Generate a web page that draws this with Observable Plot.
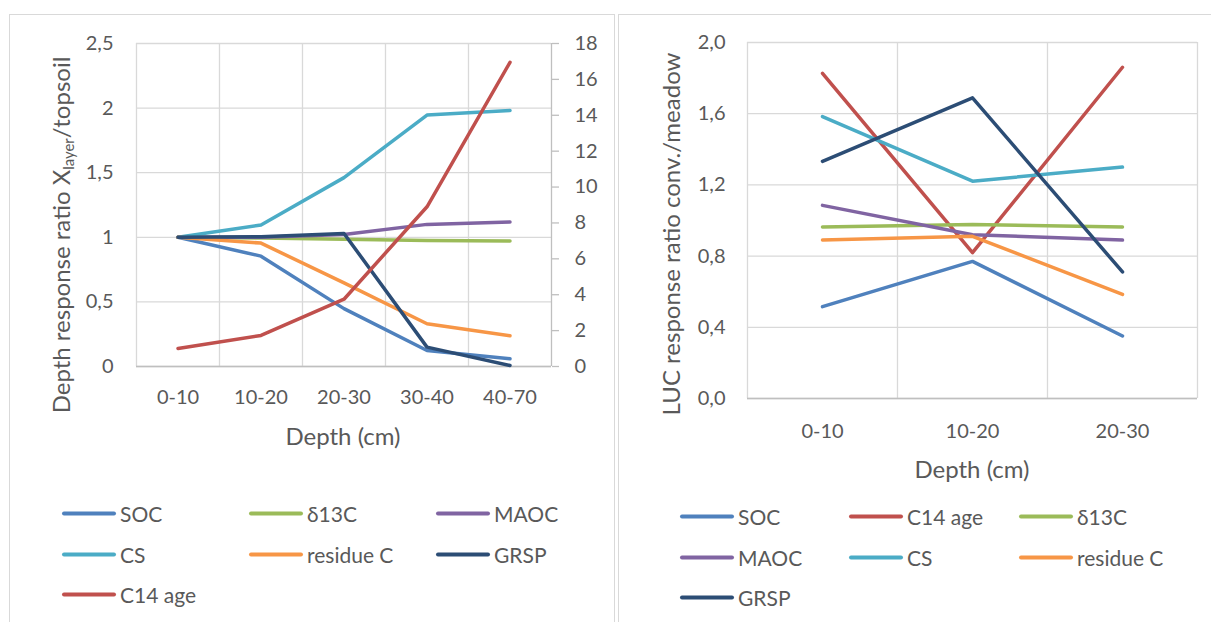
<!DOCTYPE html>
<html>
<head>
<meta charset="utf-8">
<script src="https://cdn.jsdelivr.net/npm/d3@7"></script>
<script src="https://cdn.jsdelivr.net/npm/@observablehq/plot@0.6"></script>
<style>
  html, body { margin: 0; padding: 0; background: #fff; }
  #page { position: relative; width: 1211px; height: 622px; overflow: hidden; font-family: Lato, "Open Sans", sans-serif; color: #595959; }
  .frame { position: absolute; box-sizing: border-box; border: 1.5px solid #d9d9d9; }
  .chart { position: absolute; top: 0; }
  .ytitle { position: absolute; white-space: nowrap; font-size: 24px; line-height: 1; transform: translate(-50%, -50%) rotate(-90deg); }
  .xtitle { position: absolute; white-space: nowrap; font-size: 24px; line-height: 1; transform: translate(-50%, -50%); }
  .ytitle sub { font-size: 0.62em; vertical-align: -0.3em; line-height: 0; }
  .leg { position: absolute; display: flex; align-items: center; white-space: nowrap; font-size: 21px; line-height: 1; transform: translateY(-50%); }
  .leg .sw { width: 54px; height: 4px; border-radius: 2px; margin-right: 4px; }
</style>
</head>
<body>
<div id="page">
  <div class="frame" style="left:9px; top:14px; width:606px; height:700px;"></div>
  <div class="frame" style="left:618px; top:14px; width:700px; height:700px;"></div>
  <div id="left" class="chart" style="left:0px;"></div>
  <div id="right" class="chart" style="left:620px;"></div>
  <div class="ytitle" style="left:61px; top:235px;">Depth response ratio X<sub>layer</sub>/topsoil</div>
  <div class="ytitle" style="left:671px; top:234px;">LUC response ratio conv./meadow</div>
  <div class="xtitle" style="left:343px; top:436px;">Depth (cm)</div>
  <div class="xtitle" style="left:972px; top:469px;">Depth (cm)</div>
  <div id="legends"></div>
</div>
<script>
// ---------- data ----------
const seriesNames  = ["SOC", "C14 age", "δ13C", "MAOC", "CS", "residue C", "GRSP"];
const seriesColors = ["#4F81BD", "#C0504D", "#9BBB59", "#8064A2", "#4BACC6", "#F79646", "#2C4D75"];

// Left chart: depth response ratio (primary axis) ; C14 age on secondary axis
const depthA    = ["0-10", "10-20", "20-30", "30-40", "40-70"];
const socA      = [1, 0.854, 0.448, 0.124, 0.06];
const d13cA     = [1, 0.995, 0.985, 0.976, 0.972];
const maocA     = [1, 1.0, 1.022, 1.10, 1.118];
const csA       = [1, 1.095, 1.462, 1.946, 1.982];
const residueA  = [1, 0.955, 0.647, 0.331, 0.238];
const grspA     = [1, 1.005, 1.03, 0.15, 0.008];
const c14A      = [1.0, 1.73, 3.75, 8.9, 16.95];
const yTicksA   = [0, 0.5, 1, 1.5, 2, 2.5];
const y2TicksA  = [0, 2, 4, 6, 8, 10, 12, 14, 16, 18];
const legendOrderA = ["SOC", "δ13C", "MAOC", "CS", "residue C", "GRSP", "C14 age"];

// Right chart: LUC response ratio conv./meadow
const depthB    = ["0-10", "10-20", "20-30"];
const socB      = [0.516, 0.77, 0.351];
const c14B      = [1.827, 0.819, 1.861];
const d13cB     = [0.963, 0.978, 0.963];
const maocB     = [1.085, 0.92, 0.89];
const csB       = [1.584, 1.221, 1.30];
const residueB  = [0.89, 0.911, 0.585];
const grspB     = [1.332, 1.689, 0.711];
const yTicksB   = [0, 0.4, 0.8, 1.2, 1.6, 2.0];
const legendOrderB = ["SOC", "C14 age", "δ13C", "MAOC", "CS", "residue C", "GRSP"];

// ---------- build ----------
const yMaxA = yTicksA[yTicksA.length - 1];
const y2MaxA = y2TicksA[y2TicksA.length - 1];
const toPrimary = v => v * yMaxA / y2MaxA;

const leftSeries = [
  ["SOC", socA], ["δ13C", d13cA], ["MAOC", maocA], ["CS", csA],
  ["residue C", residueA], ["GRSP", grspA], ["C14 age", c14A.map(toPrimary)]
];
const rightSeries = [
  ["SOC", socB], ["C14 age", c14B], ["δ13C", d13cB], ["MAOC", maocB],
  ["CS", csB], ["residue C", residueB], ["GRSP", grspB]
];
const toRows = list => list.flatMap(([s, vals]) => vals.map((v, i) => ({series: s, i: i + 0.5, v})));
const leftData = toRows(leftSeries);
const rightData = toRows(rightSeries);

const gridColor = "#d9d9d9";
const axisColor = "#bfbfbf";
const baseStyle = {fontFamily: "Lato, 'Open Sans', sans-serif", fontSize: "20px", color: "#595959", background: "transparent", overflow: "visible"};
const colorScale = {domain: seriesNames, range: seriesColors};

const leftPlot = Plot.plot({
  width: 620, height: 460,
  marginLeft: 136, marginRight: 69, marginTop: 43, marginBottom: 94,
  style: baseStyle,
  x: {domain: [0, depthA.length]},
  y: {domain: [0, yMaxA]},
  color: colorScale,
  marks: [
    Plot.gridY(yTicksA, {stroke: gridColor, strokeOpacity: 1, strokeWidth: 1.3}),
    Plot.gridX(d3.range(depthA.length), {stroke: gridColor, strokeOpacity: 1, strokeWidth: 1.3}),
    Plot.ruleY([0], {stroke: axisColor, strokeWidth: 1.3}),
    Plot.ruleX([depthA.length], {stroke: axisColor, strokeWidth: 1.3}),
    Plot.axisY(yTicksA, {anchor: "left", tickSize: 0, tickPadding: 23, tickFormat: d => String(d).replace(".", ","), label: null}),
    Plot.axisY(y2TicksA.map(toPrimary), {anchor: "right", tickSize: 7, tickPadding: 16, stroke: axisColor, strokeWidth: 1.3,
      tickFormat: d => String(Math.round(d * y2MaxA / yMaxA)), label: null}),
    Plot.axisX(depthA.map((_, i) => i + 0.5), {anchor: "bottom", tickSize: 0, tickPadding: 23, tickFormat: d => depthA[Math.floor(d)], label: null}),
    Plot.line(leftData, {x: "i", y: "v", z: "series", stroke: "series", strokeWidth: 3.5, strokeLinecap: "round", strokeLinejoin: "round"})
  ]
});
document.getElementById("left").appendChild(leftPlot);

const rightPlot = Plot.plot({
  width: 591, height: 480,
  marginLeft: 127, marginRight: 14, marginTop: 42, marginBottom: 82,
  style: baseStyle,
  x: {domain: [0, depthB.length]},
  y: {domain: [0, yTicksB[yTicksB.length - 1]]},
  color: colorScale,
  marks: [
    Plot.gridY(yTicksB, {stroke: gridColor, strokeOpacity: 1, strokeWidth: 1.3}),
    Plot.gridX(d3.range(depthB.length + 1), {stroke: gridColor, strokeOpacity: 1, strokeWidth: 1.3}),
    Plot.ruleY([0], {stroke: axisColor, strokeWidth: 1.3}),
    Plot.axisY(yTicksB, {anchor: "left", tickSize: 0, tickPadding: 22, tickFormat: d => d.toFixed(1).replace(".", ","), label: null}),
    Plot.axisX(depthB.map((_, i) => i + 0.5), {anchor: "bottom", tickSize: 0, tickPadding: 25, tickFormat: d => depthB[Math.floor(d)], label: null}),
    Plot.line(rightData, {x: "i", y: "v", z: "series", stroke: "series", strokeWidth: 3.5, strokeLinecap: "round", strokeLinejoin: "round"})
  ]
});
document.getElementById("right").appendChild(rightPlot);

// ---------- legends ----------
function legend(order, colX, rowY) {
  const holder = document.getElementById("legends");
  order.forEach((name, k) => {
    const el = document.createElement("div");
    el.className = "leg";
    el.style.left = colX[k % 3] + "px";
    el.style.top = rowY[Math.floor(k / 3)] + "px";
    const sw = document.createElement("span");
    sw.className = "sw";
    sw.style.background = seriesColors[seriesNames.indexOf(name)];
    const tx = document.createElement("span");
    tx.textContent = name;
    el.appendChild(sw); el.appendChild(tx);
    holder.appendChild(el);
  });
}
legend(legendOrderA, [62, 249, 436], [513, 554, 594]);
legend(legendOrderB, [680, 849, 1019], [516, 557, 597]);
</script>
</body>
</html>
